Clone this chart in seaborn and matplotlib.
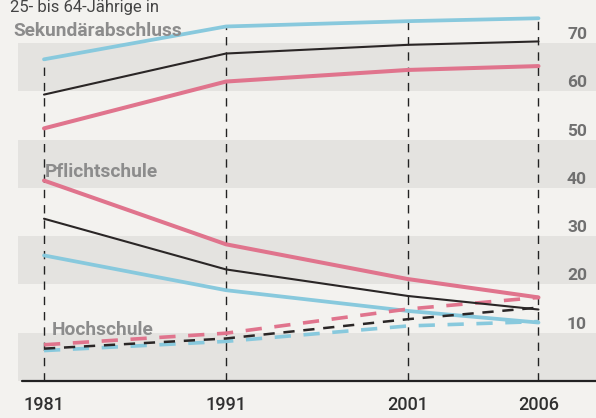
import numpy as np
import pandas as pd
import matplotlib
matplotlib.use("Agg")
import matplotlib.pyplot as plt
import seaborn as sns

# ---------------- data ----------------
years = [1981, 1991, 2001, 2006]
series = ["Männer", "Gesamt", "Frauen"]
sekundar = {
    "Männer": [66.6, 73.4, 74.5, 75.1],
    "Gesamt": [59.3, 67.8, 69.6, 70.3],
    "Frauen": [52.3, 62.0, 64.4, 65.2],
}
pflicht = {
    "Männer": [26.0, 18.8, 14.5, 12.1],
    "Gesamt": [33.6, 23.1, 17.6, 14.8],
    "Frauen": [41.5, 28.3, 21.1, 17.3],
}
hoch = {
    "Männer": [6.3, 8.2, 11.4, 12.3],
    "Gesamt": [6.7, 8.8, 12.8, 15.2],
    "Frauen": [7.5, 9.9, 14.9, 17.3],
}
group_labels = ["Sekundärabschluss", "Pflichtschule", "Hochschule"]
ytick_values = [10, 20, 30, 40, 50, 60, 70]
band_ranges = [(0, 10), (20, 30), (40, 50), (60, 70)]
subtitle = "25- bis 64-Jährige in"

rows = []
for gname, gdata in zip(group_labels, [sekundar, pflicht, hoch]):
    for s in series:
        for yr, v in zip(years, gdata[s]):
            rows.append({"Gruppe": gname, "Serie": s, "Jahr": yr, "Wert": v})
df = pd.DataFrame(rows)

# ---------------- style ----------------
sns.set_theme(style="white")
FONT = ["Roboto", "DejaVu Sans"]
plt.rcParams["font.family"] = FONT

paper = "#f3f2ef"
band = "#e4e3e0"
colors = {"Männer": "#88c9dd", "Gesamt": "#2a2626", "Frauen": "#e0748d"}
widths = {"Männer": 2.7, "Gesamt": 1.5, "Frauen": 2.9}

W, H = 596, 418
fig = plt.figure(figsize=(W / 100, H / 100), dpi=100, facecolor=paper)
ax = fig.add_axes([0, 0, 1, 1])
ax.set_facecolor(paper)

# non-uniform year scale (as in the original layout)
K = 0.1434
def fwd(y):
    y = np.asarray(y, dtype=float)
    return np.where(y < 2001, (y - 1981) / 10.0, 2 + (y - 2001) * K)
def inv(p):
    p = np.asarray(p, dtype=float)
    return np.where(p < 2, 1981 + 10.0 * p, 2001 + (p - 2) / K)

# pixel mapping helpers for layout
X0, XS = 44, 182          # pixel of 1981, pixels per position unit
Y0, YS = 381, 4.83        # pixel of value 0, pixels per unit
ylim = ((Y0 - H) / YS, Y0 / YS)
xlim = (float(inv((0 - X0) / XS)), float(inv((W - X0) / XS)))

# bands
for lo, hi in band_ranges:
    ax.axhspan(lo, hi, xmin=18 / W, xmax=1, color=band, lw=0, zorder=0)

# vertical dashed year lines from 0 up to top curve
tops = [max(sekundar[s][i] for s in series) for i in range(len(years))]
ax.vlines(years, 0, tops, colors="#222222", linestyles=(0, (6, 5)), lw=1.0, zorder=1)

# axis baseline
ax.axhline(0, xmin=22 / W, xmax=1, color="#222222", lw=1.6, zorder=1)

# lines
for gname in group_labels:
    sub = df[df["Gruppe"] == gname]
    dashed = gname == "Hochschule"
    for s in series:
        d = sub[sub["Serie"] == s]
        lw = widths[s] if not dashed else (2.6 if s != "Gesamt" else 1.8)
        sns.lineplot(data=d, x="Jahr", y="Wert", color=colors[s], ax=ax, lw=lw,
                     linestyle=(0, (4.5, 3.5)) if dashed else "-",
                     zorder=3 if s == "Gesamt" else 2, legend=False)

ax.set_xscale("function", functions=(fwd, inv))
ax.set_xlim(*xlim)
ax.set_ylim(*ylim)
ax.set_xlabel("")
ax.set_ylabel("")
ax.set_xticks([])
ax.set_yticks([])
for sp in ax.spines.values():
    sp.set_visible(False)

# right-side value labels (sitting on top of their lines)
for v in ytick_values:
    fig.text(567 / W, 1 - (Y0 - YS * v - 1) / H, str(v), ha="left", va="bottom",
             fontsize=12.5, fontweight="bold", color="#707070")

# year labels
for yr in years:
    ax.text(yr, -5.0, str(yr), ha="center", va="center", fontsize=13,
            fontweight="medium", color="#303030")

# group labels
label_pos = {"Sekundärabschluss": (13, 31), "Pflichtschule": (45, 172), "Hochschule": (52, 330)}
for g in group_labels:
    px, py = label_pos[g]
    fig.text(px / W, 1 - py / H, g, ha="left", va="center", fontsize=13.8,
             fontweight="bold", color="#8c8c8c")

# subtitle at top
fig.text(10 / W, 1 - 12 / H, subtitle, ha="left", va="baseline", fontsize=12,
         color="#444444")

fig.savefig("out.png", dpi=100, facecolor=paper)
